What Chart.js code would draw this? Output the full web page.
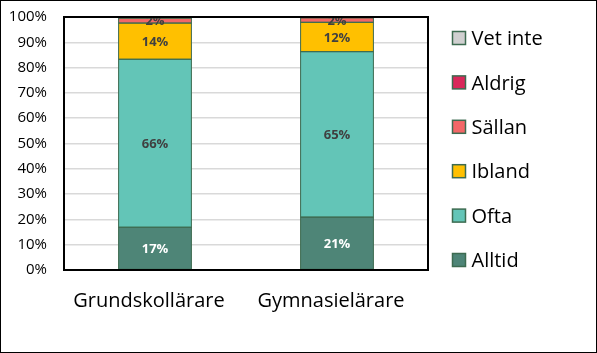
<!DOCTYPE html>
<html>
<head>
<meta charset="utf-8">
<script src="https://cdn.jsdelivr.net/npm/chart.js@4"></script>
<style>
  html, body { margin: 0; padding: 0; background: #fff; }
  #wrap { width: 597px; height: 353px; }
</style>
</head>
<body>
<div id="wrap"><canvas id="chart" width="597" height="353"></canvas></div>
<script>
// values (percent)
const categories = ['Grundskollärare', 'Gymnasielärare'];
const alltid  = [16.9, 20.9];
const ofta    = [66.4, 65.4];
const ibland  = [14.3, 11.6];
const sallan  = [2.0, 1.8];
const aldrig  = [0.1, 0.1];
const vetInte = [0.3, 0.2];
const yTicks = [0, 10, 20, 30, 40, 50, 60, 70, 80, 90, 100];

const FONT = '"Open Sans", sans-serif';
const EDGE = '#3D6B50';

const seriesDefs = [
  { label: 'Alltid',   data: alltid,  color: '#4E8577', text: '#ffffff' },
  { label: 'Ofta',     data: ofta,    color: '#63C5B7', text: '#404040' },
  { label: 'Ibland',   data: ibland,  color: '#FFC000', text: '#404040' },
  { label: 'Sällan',   data: sallan,  color: '#F26767', text: '#404040' },
  { label: 'Aldrig',   data: aldrig,  color: '#D9285A', text: '#404040' },
  { label: 'Vet inte', data: vetInte, color: '#D0D0D0', text: '#404040' }
];

// outline of every segment + labels inside them (only values that round to >= 2)
const segmentLabels = {
  id: 'segmentLabels',
  afterDatasetsDraw(chart) {
    const ctx = chart.ctx;
    ctx.save();
    chart.data.datasets.forEach((ds, i) => {
      chart.getDatasetMeta(i).data.forEach(bar => {
        const top = Math.min(bar.y, bar.base), h = Math.abs(bar.base - bar.y);
        ctx.strokeStyle = EDGE;
        ctx.lineWidth = 1;
        ctx.strokeRect(bar.x - bar.width / 2, top, bar.width, h);
      });
    });
    ctx.font = 'bold 13px ' + FONT;
    ctx.textAlign = 'center';
    ctx.textBaseline = 'middle';
    chart.data.datasets.forEach((ds, i) => {
      chart.getDatasetMeta(i).data.forEach((bar, j) => {
        const v = Math.round(ds.data[j]);
        if (v < 2) return;
        ctx.fillStyle = seriesDefs[i].text;
        ctx.fillText(v + '%', bar.x, (bar.y + bar.base) / 2 + 1);
      });
    });
    ctx.restore();
  }
};

// black box round the plot area, frame round the picture, legend on the right
const frames = {
  id: 'frames',
  afterDraw(chart) {
    const ctx = chart.ctx;
    const a = chart.chartArea;
    ctx.save();
    ctx.fillStyle = '#000';
    const l = Math.round(a.left), r = Math.round(a.right);
    const t = Math.round(a.top), b = Math.round(a.bottom);
    ctx.fillRect(l - 1, t - 1, r - l + 2, 2);
    ctx.fillRect(l - 1, b - 1, r - l + 2, 2);
    ctx.fillRect(l - 1, t - 1, 2, b - t + 2);
    ctx.fillRect(r - 1, t - 1, 2, b - t + 2);
    ctx.fillRect(0, 0, chart.width, 1);
    ctx.fillRect(0, chart.height - 1, chart.width, 1);
    ctx.fillRect(0, 0, 1, chart.height);
    ctx.fillRect(chart.width - 1, 0, 1, chart.height);

    // legend, top item is the last series
    ctx.font = '20px ' + FONT;
    ctx.textBaseline = 'middle';
    ctx.textAlign = 'left';
    const n = seriesDefs.length;
    for (let k = 0; k < n; k++) {
      const s = seriesDefs[n - 1 - k];
      const cy = a.top + 21.5 + k * 44.4;
      const bx = a.right + 24.5;
      ctx.fillStyle = s.color;
      ctx.fillRect(bx, cy - 7, 13, 13);
      ctx.strokeStyle = EDGE;
      ctx.lineWidth = 1.5;
      ctx.strokeRect(bx, cy - 7, 13, 13);
      ctx.fillStyle = '#000';
      ctx.fillText(s.label, a.right + 43.5, cy + 1);
    }
    ctx.restore();
  }
};

new Chart(document.getElementById('chart'), {
  type: 'bar',
  data: {
    labels: categories,
    datasets: seriesDefs.map(s => ({
      label: s.label,
      data: s.data,
      backgroundColor: s.color,
      borderWidth: 0,
      categoryPercentage: 1,
      barPercentage: 0.4
    }))
  },
  options: {
    responsive: false,
    animation: false,
    layout: { padding: { left: 7, right: 169, top: 0, bottom: 29 } },
    plugins: {
      legend: { display: false },
      tooltip: { enabled: false }
    },
    scales: {
      x: {
        stacked: true,
        grid: { display: false },
        border: { display: false },
        afterFit(s) { s.paddingLeft = 0; s.paddingRight = 0; },
        ticks: { font: { family: FONT, size: 20 }, color: '#000', padding: 11, labelOffset: -6 }
      },
      y: {
        stacked: true,
        min: 0,
        max: 100,
        afterBuildTicks(scale) { scale.ticks = yTicks.map(v => ({ value: v })); },
        afterFit(s) { s.width = 57; s.paddingTop = 17; },
        grid: { color: '#D9D9D9', lineWidth: 1.5, drawTicks: false },
        border: { display: false },
        ticks: {
          font: { family: FONT, size: 15 },
          color: '#000',
          padding: 17,
          callback: v => v + '%'
        }
      }
    }
  },
  plugins: [segmentLabels, frames]
});
</script>
</body>
</html>
